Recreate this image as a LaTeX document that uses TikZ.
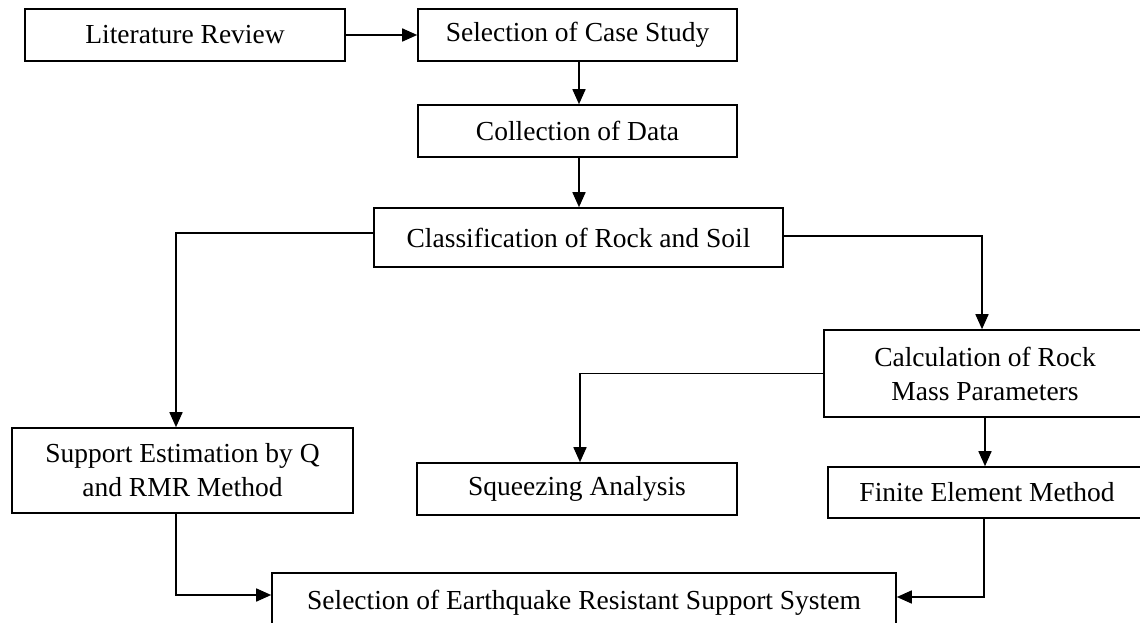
\documentclass[tikz,border=0pt]{standalone}
\usepackage{fontspec}
\setmainfont{Liberation Serif}
\usetikzlibrary{arrows.meta}
\tikzset{
  box/.style={draw, line width=1.6pt, rectangle, inner sep=0pt, align=center,
    font=\fontsize{27.5}{34}\selectfont},
  arr/.style={line width=1.6pt, -{Triangle[length=15pt,width=13pt]}},
}
\begin{document}
\begin{tikzpicture}[x=1pt,y=-1pt]
\clip (0,0) rectangle (1140,623);
\fill[white] (0,0) rectangle (1140,623);
\node[box, minimum width=320pt, minimum height=52pt] (lr) at (185,35) {Literature Review};
\node[box, minimum width=319pt, minimum height=52pt] (scs) at (577.5,35) {Selection of Case Study};
\node[box, minimum width=319pt, minimum height=52pt] (cod) at (577.5,131) {Collection of Data};
\node[box, minimum width=409pt, minimum height=59pt] (crs) at (578.5,237.5) {Classification of Rock and Soil};
\node[box, minimum width=341pt, minimum height=85pt] (seq) at (182.5,470.5) {Support Estimation by Q\\and RMR Method};
\node[box, minimum width=322pt, minimum height=87pt] (crmp) at (985,373.5) {Calculation of Rock\\Mass Parameters};
\node[box, minimum width=320pt, minimum height=52pt] (sq) at (577,489) {Squeezing Analysis};
\node[box, minimum width=318pt, minimum height=51pt] (fem) at (987,492.5) {Finite Element Method};
\node[box, minimum width=624pt, minimum height=60pt] (fin) at (584,603) {Selection of Earthquake Resistant Support System};

\draw[arr] (lr.east) -- (scs.west);
\draw[arr] ([xshift=1.5pt]scs.south) -- ([xshift=1.5pt]cod.north);
\draw[arr] ([xshift=1.5pt]cod.south) -- ([xshift=1.5pt]cod.south |- crs.north);
\draw[arr] ([yshift=4.5pt]crs.west) -| ([xshift=-6.5pt]seq.north);
\draw[arr] ([yshift=1.5pt]crs.east) -| ([xshift=-3pt]crmp.north);
\draw[arr] (crmp.west) -| ([xshift=3pt]sq.north);
\draw[arr] (crmp.south) -- (crmp.south |- fem.north);
\draw[arr] ([xshift=-6.5pt]seq.south) |- ([yshift=8pt]fin.west);
\draw[arr] ([xshift=-3pt]fem.south) |- ([yshift=6pt]fin.east);
\end{tikzpicture}
\end{document}
